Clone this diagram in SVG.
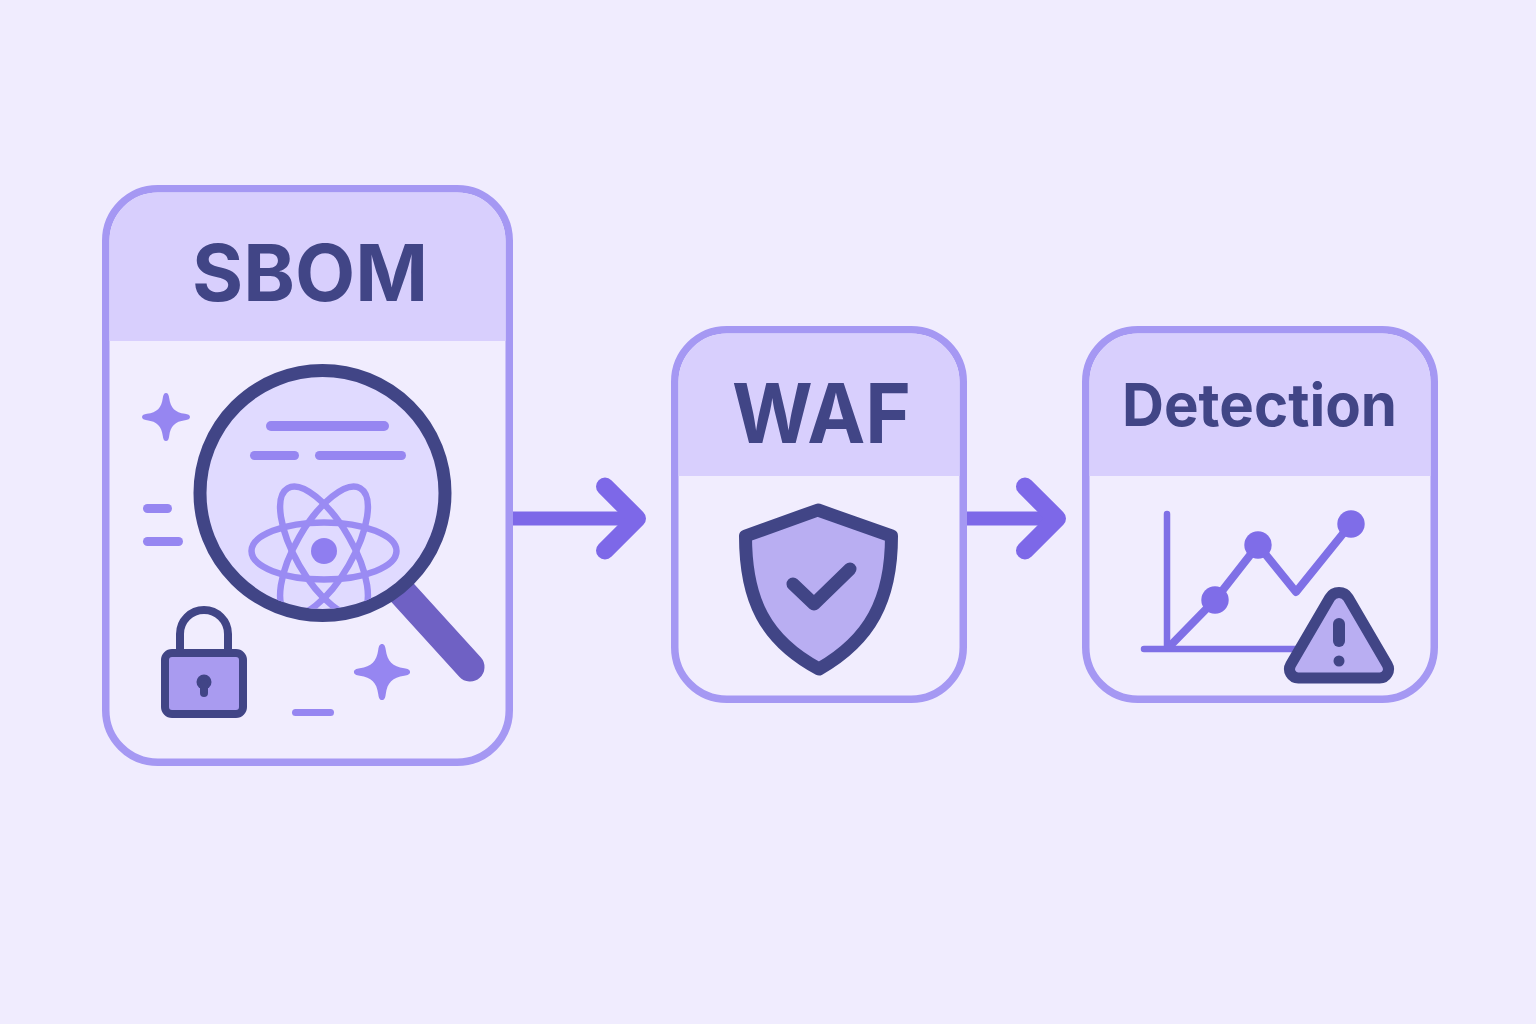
<svg xmlns="http://www.w3.org/2000/svg" width="1536" height="1024" viewBox="0 0 1536 1024">
<style>
.card{fill:#f1edfe;stroke:#a598f3;stroke-width:7.500}
.head{fill:#d8cffd}
.title{font-family:Inter,"Liberation Sans",sans-serif;font-weight:700;fill:#414586;text-anchor:middle}
.bar{fill:#9686f1}
.ink{fill:none;stroke:#414586;stroke-linecap:round;stroke-linejoin:round}
.tint{fill:#b9aef2}
.orbit{fill:none;stroke:#9a8bf3;stroke-width:6.500}
.chart{fill:none;stroke:#7f70e6;stroke-linecap:round;stroke-linejoin:round}
.dot{fill:#7f6de8}
.conn{fill:none;stroke:#7d68e8;stroke-width:14}
</style>
<defs>
<marker id="chev" markerUnits="userSpaceOnUse" markerWidth="70" markerHeight="90" refX="45" refY="45" orient="auto" viewBox="0 0 70 90">
<path d="M13 13L45 45L13 77" fill="none" stroke="#7d68e8" stroke-width="18" stroke-linecap="round" stroke-linejoin="round"/>
</marker>
<clipPath id="lens"><circle cx="322.500" cy="493" r="116"/></clipPath>
<path id="spark" d="M0-24C2-24 2.800-22 3.200-19C4.500-9 9-4.500 19-3.200C22-2.800 24-2 24 0C24 2 22 2.800 19 3.200C9 4.500 4.500 9 3.200 19C2.800 22 2 24 0 24C-2 24-2.800 22-3.200 19C-4.500 9-9 4.500-19 3.200C-22 2.800-24 2-24 0C-24-2-22-2.800-19-3.200C-9-4.500-4.500-9-3.200-19C-2.800-22-2-24 0-24Z" fill="#9686f1"/>
</defs>
<rect id="background" width="1536" height="1024" fill="#f0ecfe"/>
<g id="connectors">
<path class="conn" d="M513 518.500H637" marker-end="url(#chev)"/>
<path class="conn" d="M967 518.500H1057" marker-end="url(#chev)"/>
</g>
<g id="sbom">
<rect class="card" x="105.750" y="188.750" width="403.500" height="573.500" rx="52"/>
<path class="head" d="M109.500 341V240A48 48 0 0 1 157.500 192.500H457.500A48 48 0 0 1 505.500 240V341Z"/>
<text class="title" x="310" y="301" font-size="78" textLength="236" lengthAdjust="spacingAndGlyphs">SBOM</text>
<use href="#spark" transform="translate(166 417)"/>
<use href="#spark" transform="translate(382 672) scale(1.170)"/>
<rect class="bar" x="143" y="504" width="29" height="9" rx="4.500"/>
<rect class="bar" x="143" y="537" width="40" height="9" rx="4.500"/>
<rect class="bar" x="292" y="709" width="42" height="7" rx="3.500"/>
<path d="M400 590L470 667" fill="none" stroke="#6f61c4" stroke-width="29" stroke-linecap="round"/>
<circle cx="322.500" cy="493" r="122.500" fill="#e0daff" stroke="#414586" stroke-width="13"/>
<rect class="bar" x="266" y="421" width="123" height="10" rx="5"/>
<rect class="bar" x="250" y="451" width="49" height="9" rx="4.500"/>
<rect class="bar" x="315" y="451" width="91" height="9" rx="4.500"/>
<g clip-path="url(#lens)">
<ellipse class="orbit" cx="324" cy="551" rx="72.500" ry="28.500"/>
<ellipse class="orbit" cx="324" cy="551" rx="72.500" ry="28.500" transform="rotate(60 324 551)"/>
<ellipse class="orbit" cx="324" cy="551" rx="72.500" ry="28.500" transform="rotate(-60 324 551)"/>
<circle cx="324" cy="551" r="13" fill="#8f7ef0"/>
</g>
<path class="ink" stroke-width="8" d="M180 652V634A24 24 0 0 1 228 634V652"/>
<rect x="165" y="653" width="78" height="61" rx="7" stroke="#414586" stroke-width="8" fill="#a99bf0"/>
<circle cx="204" cy="682" r="7.500" fill="#414586"/>
<path class="ink" stroke-width="8" d="M204 684V693"/>
</g>
<g id="waf">
<rect class="card" x="674.750" y="329.750" width="288.500" height="369.500" rx="52"/>
<path class="head" d="M678.500 476V381A48 48 0 0 1 726.500 333.500H911.500A48 48 0 0 1 959.500 381V476Z"/>
<text class="title" x="821.500" y="443" font-size="83" textLength="179" lengthAdjust="spacingAndGlyphs">WAF</text>
<path class="tint" d="M818 510L891.500 536C891.500 600 870 640 819 669C765 640 745.500 600 745.500 536Z"/>
<path class="ink" stroke-width="13" d="M818 510L891.500 536C891.500 600 870 640 819 669C765 640 745.500 600 745.500 536Z"/>
<path class="ink" stroke-width="13" d="M793 584L814 604L850 569"/>
</g>
<g id="detection">
<rect class="card" x="1085.750" y="329.750" width="348.500" height="369.500" rx="52"/>
<path class="head" d="M1089.500 476V381A48 48 0 0 1 1137.500 333.500H1382.500A48 48 0 0 1 1430.500 381V476Z"/>
<text class="title" x="1259.500" y="426" font-size="59" textLength="275" lengthAdjust="spacingAndGlyphs">Detection</text>
<path class="chart" stroke-width="6.500" d="M1167 514V649M1144 649H1300"/>
<path class="chart" stroke-width="8" d="M1169 647L1215 600L1258 545L1296 592L1350 525"/>
<circle class="dot" cx="1215" cy="600" r="13.700"/>
<circle class="dot" cx="1258" cy="545" r="13.700"/>
<circle class="dot" cx="1351" cy="524" r="13.700"/>
<path class="tint" d="M1329.800 597.800A10.700 10.700 0 0 1 1348.200 597.800L1387.300 664.800A8.800 8.800 0 0 1 1379.700 678H1298.300A8.800 8.800 0 0 1 1290.700 664.800Z"/>
<path class="ink" stroke-width="11" d="M1329.800 597.800A10.700 10.700 0 0 1 1348.200 597.800L1387.300 664.800A8.800 8.800 0 0 1 1379.700 678H1298.300A8.800 8.800 0 0 1 1290.700 664.800Z"/>
<path class="ink" stroke-width="12" d="M1339 624V641"/>
<circle cx="1339" cy="661" r="5.500" fill="#414586"/>
</g>
</svg>
